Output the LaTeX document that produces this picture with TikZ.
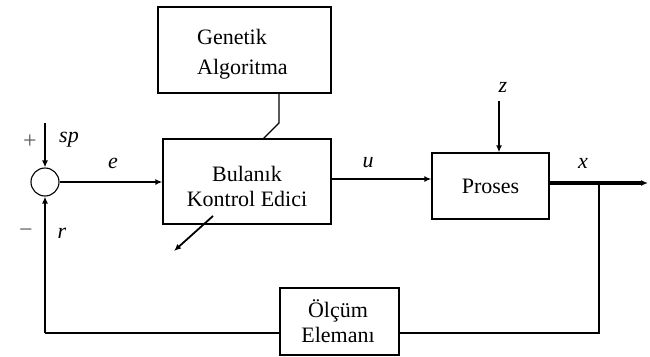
\documentclass[tikz,border=0pt]{standalone}
\usepackage{fontspec}
\setmainfont{Liberation Serif}
\usetikzlibrary{arrows.meta}
\begin{document}
\begin{tikzpicture}[x=1pt,y=-1pt,
  box/.style={draw,line width=1.3pt,inner sep=0pt},
  txt/.style={font=\fontsize{22}{25}\selectfont,align=center,inner sep=0pt},
  lab/.style={font=\fontsize{22}{25}\selectfont\itshape,inner sep=0pt},
  sgn/.style={font=\fontsize{24}{26}\selectfont,inner sep=0pt,text=black!65},
  thick line/.style={line width=2.3pt},
  thin line/.style={line width=1.3pt},
  arr/.style={-{Latex[length=7pt,width=6pt]}}]
\useasboundingbox (0,0) rectangle (650,356);
% boxes
\node[box,minimum width=173pt,minimum height=86pt] (ga) at (244.5,50) {};
\node[txt,align=left,anchor=west,font=\fontsize{22}{30}\selectfont] (gat) at (197,54) {Genetik\\Algoritma};
\node[box,minimum width=168pt,minimum height=85pt] (fz) at (247,181.5) {};
\node[txt] (fzt) at (247,186) {Bulanık\\Kontrol Edici};
\node[box,minimum width=117pt,minimum height=66pt] (pr) at (490.5,186) {};
\node[txt] (prt) at (490.5,186) {Proses};
\node[box,minimum width=119pt,minimum height=67pt] (ol) at (339.5,321.5) {};
\node[txt] (olt) at (338,321) {Ölçüm\\Elemanı};
\node[draw,circle,line width=1.1pt,minimum size=28pt,inner sep=0pt] (sum) at (45,182) {};
% coordinates
\coordinate (sptop) at (45,123);
\coordinate (ztop) at (499,101);
\coordinate (xend) at (648,183);
\coordinate (xbr) at (599,183);
\coordinate (br) at (599,333);
\coordinate (bl) at (45,333);
\coordinate (g1) at (279,123);
\coordinate (g2) at (263,139);
\coordinate (t1) at (213,216);
\coordinate (t2) at (174,251);
% connectors
\draw[thick line,arr] (sptop) -- (sum.north);
\draw[thick line,arr] (sum.east) -- (sum.east -| fz.west);
\draw[thick line,arr] (fz.east |- 0,179) -- (pr.west |- 0,179);
\draw[thick line,arr] (ztop) -- (ztop |- pr.north);
\draw[line width=3.4pt,arr] (pr.east |- xend) -- (xend);
\draw[thin line] (xbr) -- (br) -- (br -| ol.east);
\draw[thin line] (bl -| ol.west) -- (bl);
\draw[thick line,arr] (bl) -- (sum.south);
\draw[thin line] (ga.south -| g1) -- (g1) -- (g2);
\draw[line width=1.8pt,arr] (t1) -- (t2);
% labels
\node[lab] (lsp) at (69,140) {sp};
\node[sgn] (lplus) at (30,142) {+};
\node[sgn] (lminus) at (26,233) {−};
\node[lab] (lr) at (62,233) {r};
\node[lab] (le) at (113,163) {e};
\node[lab] (lu) at (368,163) {u};
\node[lab] (lz) at (503,87) {z};
\node[lab] (lx) at (583,163) {x};
\end{tikzpicture}
\end{document}
